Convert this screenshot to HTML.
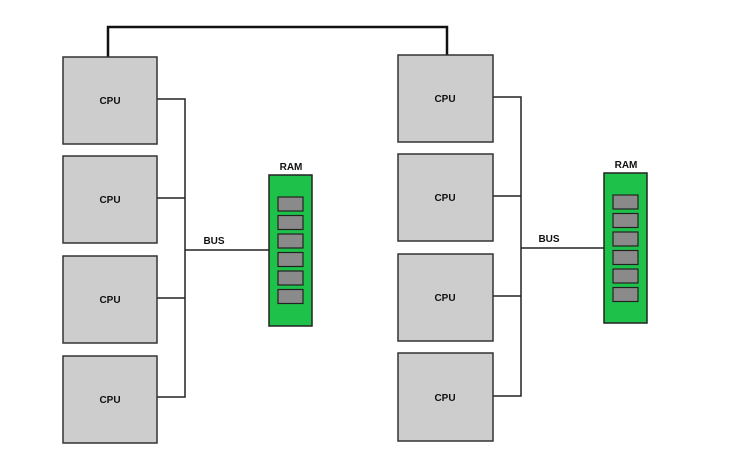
<!DOCTYPE html>
<html><head><meta charset="utf-8"><style>html,body{margin:0;padding:0;background:#fff}svg{display:block}</style></head><body>
<svg width="744" height="476" viewBox="0 0 744 476" xmlns="http://www.w3.org/2000/svg" font-family="Liberation Sans, sans-serif" font-weight="bold">
<polyline points="108,57 108,27 447,27 447,55" fill="none" stroke="#111" stroke-width="2.5"/>
<g stroke="#222" stroke-width="1.5" fill="none">
<polyline points="157,99 185,99 185,397 157,397"/>
<line x1="157" y1="198" x2="185" y2="198"/><line x1="157" y1="298" x2="185" y2="298"/>
<line x1="185" y1="250" x2="269" y2="250"/>
<polyline points="493,97 521,97 521,396 493,396"/>
<line x1="493" y1="196" x2="521" y2="196"/><line x1="493" y1="296" x2="521" y2="296"/>
<line x1="521" y1="248" x2="604" y2="248"/>
</g>
<g fill="#cdcdcd" stroke="#333" stroke-width="1.5">
<rect x="63" y="57" width="94" height="87"/><rect x="63" y="156" width="94" height="87"/>
<rect x="63" y="256" width="94" height="87"/><rect x="63" y="356" width="94" height="87"/>
<rect x="398" y="55" width="95" height="87"/><rect x="398" y="154" width="95" height="87"/>
<rect x="398" y="254" width="95" height="87"/><rect x="398" y="353" width="95" height="88"/>
</g>
<g font-size="10" fill="#111" text-anchor="middle">
<text x="110" y="104">CPU</text><text x="110" y="203">CPU</text><text x="110" y="303">CPU</text><text x="110" y="403">CPU</text>
<text x="445" y="102">CPU</text><text x="445" y="201">CPU</text><text x="445" y="301">CPU</text><text x="445" y="401">CPU</text>
<text x="214" y="244">BUS</text><text x="549" y="242">BUS</text>
<text x="291" y="170">RAM</text><text x="626" y="168">RAM</text>
</g>
<rect x="269" y="175" width="43" height="151" fill="#1ec24a" stroke="#222" stroke-width="1.5"/>
<rect x="604" y="173" width="43" height="150" fill="#1ec24a" stroke="#222" stroke-width="1.5"/>
<g fill="#8a8a8a" stroke="#222" stroke-width="1.2">
<rect x="278" y="197" width="25" height="14"/><rect x="278" y="215.5" width="25" height="14"/>
<rect x="278" y="234" width="25" height="14"/><rect x="278" y="252.5" width="25" height="14"/>
<rect x="278" y="271" width="25" height="14"/><rect x="278" y="289.5" width="25" height="14"/>
<rect x="613" y="195" width="25" height="14"/><rect x="613" y="213.5" width="25" height="14"/>
<rect x="613" y="232" width="25" height="14"/><rect x="613" y="250.5" width="25" height="14"/>
<rect x="613" y="269" width="25" height="14"/><rect x="613" y="287.5" width="25" height="14"/>
</g>
</svg>
</body></html>
